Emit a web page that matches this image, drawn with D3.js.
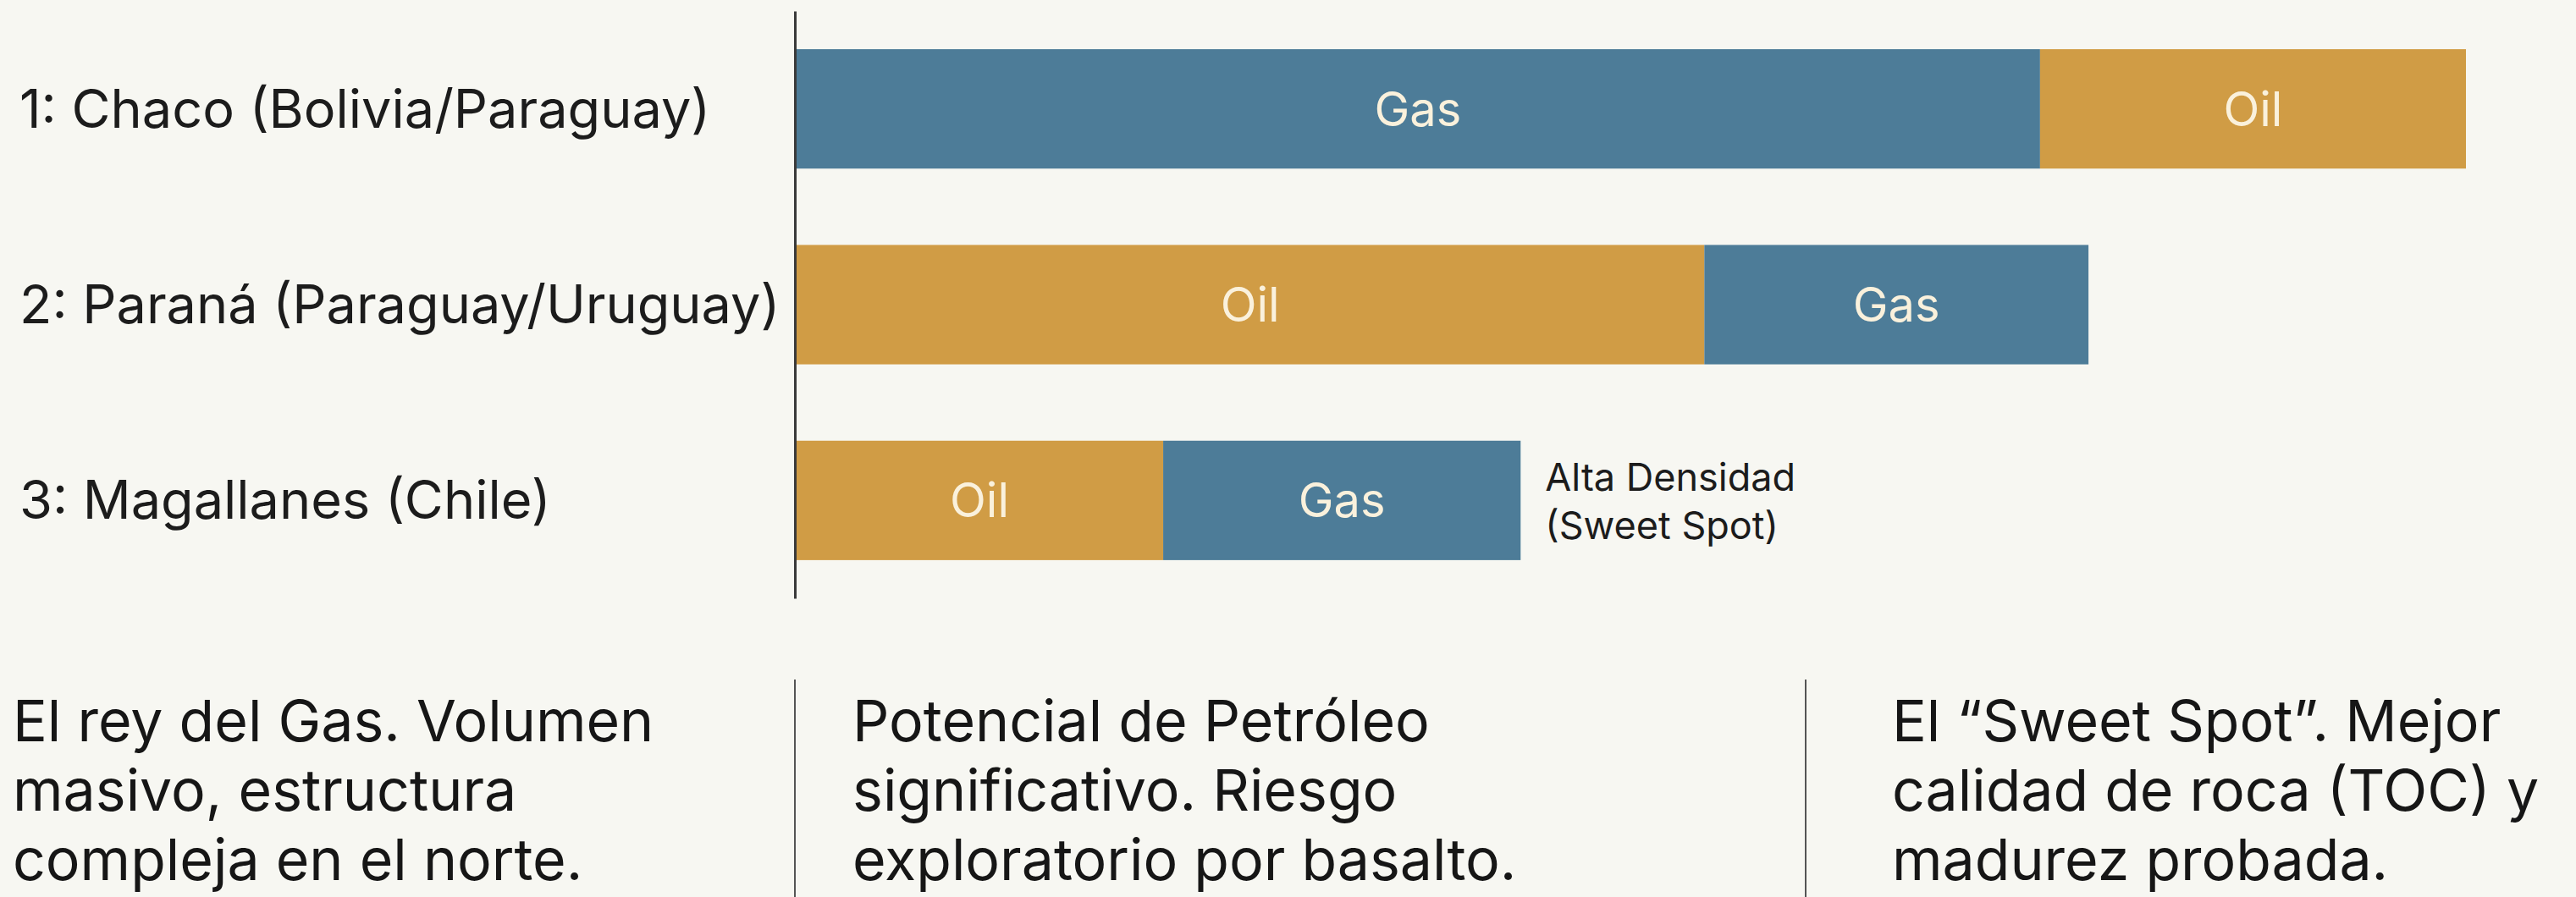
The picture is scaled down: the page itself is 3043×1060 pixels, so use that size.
<!DOCTYPE html>
<html lang="es">
<head>
  <meta charset="UTF-8">
  <title>Cuencas: Gas y Oil</title>
  <script src="https://d3js.org/d3.v7.min.js"></script>
  <style>
    html, body {
      margin: 0;
      padding: 0;
      background: #f7f7f2;
      overflow: hidden;
    }

    svg {
      display: block;
      font-family: Inter, "Noto Sans", sans-serif;
    }

    .seg-label {
      font-size: 56px;
      fill: #faf1dc;
    }

    .note {
      font-size: 45px;
      fill: #1c1c1c;
    }

    .summary {
      font-size: 68px;
      fill: #161616;
    }
  </style>
</head>
<body>
  <svg id="chart"></svg>
  <script>
    // Datos
    const regions = ["1: Chaco (Bolivia/Paraguay)", "2: Paraná (Paraguay/Uruguay)", "3: Magallanes (Chile)"];
    const gasValues = [74.5, 23, 21.4];
    const oilValues = [25.5, 54.4, 22];
    const firstSeries = ["Gas", "Oil", "Oil"];
    const notes = [null, null, ["Alta Densidad", "(Sweet Spot)"]];
    const summaries = [
      ["El rey del Gas. Volumen", "masivo, estructura", "compleja en el norte."],
      ["Potencial de Petróleo", "significativo. Riesgo", "exploratorio por basalto."],
      ["El \u201cSweet Spot\u201d. Mejor", "calidad de roca (TOC) y", "madurez probada."]
    ];

    const width = 3043;
    const height = 1060;
    const colors = { Gas: "#4d7c98", Oil: "#d09c45" };

    const svg = d3.select("#chart")
      .attr("width", width)
      .attr("height", height);

    const x = d3.scaleLinear()
      .domain([0, 100])
      .range([940, 2913]);

    const y = d3.scaleBand()
      .domain(regions)
      .range([13, 707])
      .paddingInner(0.39)
      .paddingOuter(0.195);

    // build segments, order per row
    const segments = [];
    regions.forEach((r, i) => {
      const order = firstSeries[i] === "Gas" ? ["Gas", "Oil"] : ["Oil", "Gas"];
      let start = 0;
      order.forEach(s => {
        const v = s === "Gas" ? gasValues[i] : oilValues[i];
        segments.push({ region: r, series: s, x0: start, x1: start + v });
        start += v;
      });
    });

    svg.selectAll(".seg")
      .data(segments)
      .enter()
      .append("rect")
      .attr("class", "seg")
      .attr("x", d => x(d.x0))
      .attr("y", d => y(d.region))
      .attr("width", d => x(d.x1) - x(d.x0))
      .attr("height", y.bandwidth())
      .attr("fill", d => colors[d.series]);

    svg.selectAll(".seg-label")
      .data(segments)
      .enter()
      .append("text")
      .attr("class", "seg-label")
      .attr("x", d => (x(d.x0) + x(d.x1)) / 2)
      .attr("y", d => y(d.region) + y.bandwidth() / 2 + 20)
      .attr("text-anchor", "middle")
      .text(d => d.series);

    // Y axis: line plus left-aligned labels
    const yAxis = d3.axisLeft(y).tickSize(0).tickPadding(0);
    const axisG = svg.append("g")
      .attr("transform", `translate(${x(0) - 1}, 0)`)
      .call(yAxis);

    axisG.select(".domain")
      .attr("stroke", "#3a3a3a")
      .attr("stroke-width", 3);

    axisG.selectAll(".tick text")
      .attr("text-anchor", "start")
      .attr("x", 23 - (x(0) - 1))
      .attr("dy", null)
      .attr("y", 22)
      .style("font-family", "Inter, 'Noto Sans', sans-serif")
      .style("font-size", "63px")
      .attr("fill", "#1c1c1c");

    // annotation next to bars
    regions.forEach((r, i) => {
      if (!notes[i]) return;
      const total = gasValues[i] + oilValues[i];
      const t = svg.append("text")
        .attr("class", "note")
        .attr("x", x(total) + 29)
        .attr("y", y(r) + 59);
      notes[i].forEach((line, k) => {
        t.append("tspan")
          .attr("x", x(total) + 29)
          .attr("dy", k === 0 ? 0 : 57)
          .text(line);
      });
    });

    // bottom summaries
    const colText = [15, 1007, 2235];
    const dividers = [939, 2133];

    svg.selectAll(".divider")
      .data(dividers)
      .enter()
      .append("line")
      .attr("class", "divider")
      .attr("x1", d => d)
      .attr("x2", d => d)
      .attr("y1", 803)
      .attr("y2", height)
      .attr("stroke", "#555")
      .attr("stroke-width", 2);

    summaries.forEach((lines, i) => {
      const t = svg.append("text")
        .attr("class", "summary")
        .attr("y", 876);
      lines.forEach((line, k) => {
        t.append("tspan")
          .attr("x", colText[i])
          .attr("dy", k === 0 ? 0 : 82)
          .text(line);
      });
    });
  </script>
</body>
</html>
